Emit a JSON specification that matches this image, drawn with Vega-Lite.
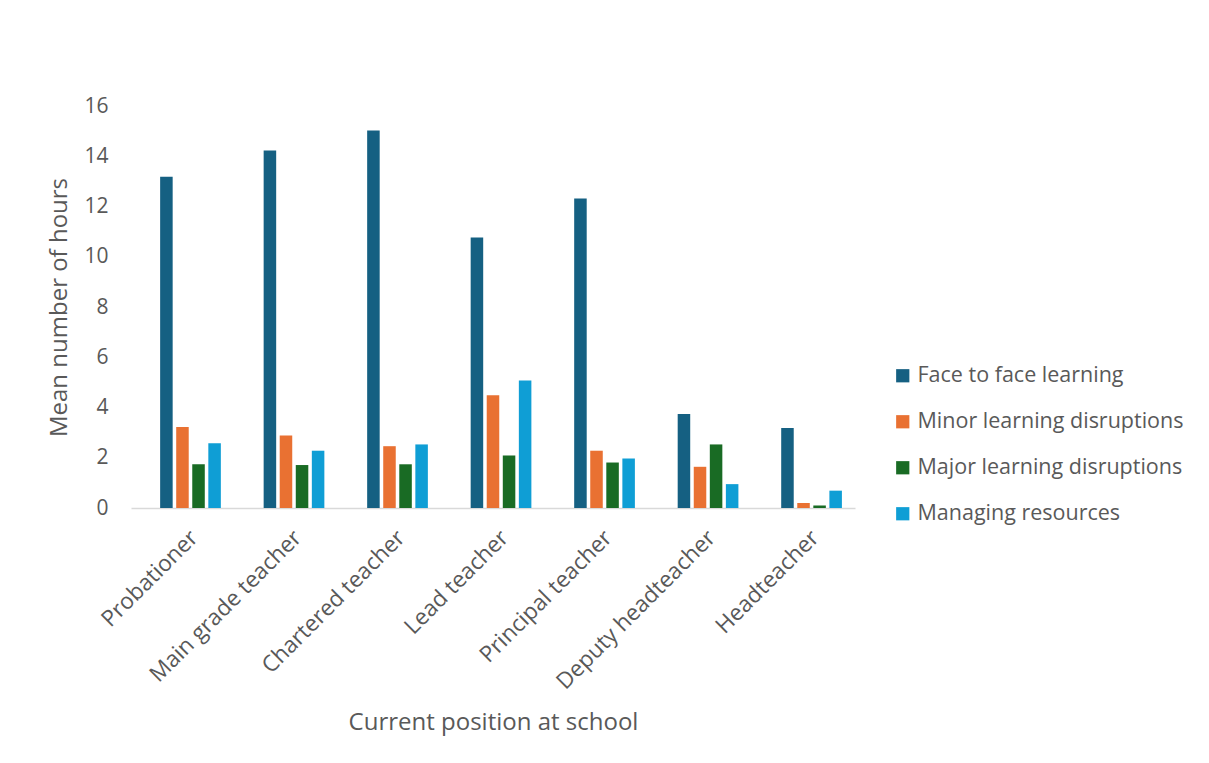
{
  "$schema": "https://vega.github.io/schema/vega-lite/v6.json",
  "width": 724,
  "height": 402,
  "autosize": {"type": "none"},
  "padding": {"left": 131, "top": 106, "right": 354, "bottom": 255},
  "background": "white",
  "config": {
    "font": "Open Sans",
    "view": {"stroke": null},
    "axis": {"labelColor": "#595959", "titleColor": "#595959", "labelFont": "Open Sans", "titleFont": "Open Sans", "titleFontWeight": "normal"},
    "legend": {"labelColor": "#595959", "labelFont": "Open Sans"}
  },
  "data": {
    "values": [
      {"position": "Probationer", "activity": "Face to face learning", "hours": 13.18},
      {"position": "Probationer", "activity": "Minor learning disruptions", "hours": 3.22},
      {"position": "Probationer", "activity": "Major learning disruptions", "hours": 1.74},
      {"position": "Probationer", "activity": "Managing resources", "hours": 2.58},
      {"position": "Main grade teacher", "activity": "Face to face learning", "hours": 14.23},
      {"position": "Main grade teacher", "activity": "Minor learning disruptions", "hours": 2.89},
      {"position": "Main grade teacher", "activity": "Major learning disruptions", "hours": 1.71},
      {"position": "Main grade teacher", "activity": "Managing resources", "hours": 2.28},
      {"position": "Chartered teacher", "activity": "Face to face learning", "hours": 15.02},
      {"position": "Chartered teacher", "activity": "Minor learning disruptions", "hours": 2.46},
      {"position": "Chartered teacher", "activity": "Major learning disruptions", "hours": 1.74},
      {"position": "Chartered teacher", "activity": "Managing resources", "hours": 2.53},
      {"position": "Lead teacher", "activity": "Face to face learning", "hours": 10.77},
      {"position": "Lead teacher", "activity": "Minor learning disruptions", "hours": 4.49},
      {"position": "Lead teacher", "activity": "Major learning disruptions", "hours": 2.09},
      {"position": "Lead teacher", "activity": "Managing resources", "hours": 5.07},
      {"position": "Principal teacher", "activity": "Face to face learning", "hours": 12.32},
      {"position": "Principal teacher", "activity": "Minor learning disruptions", "hours": 2.28},
      {"position": "Principal teacher", "activity": "Major learning disruptions", "hours": 1.81},
      {"position": "Principal teacher", "activity": "Managing resources", "hours": 1.97},
      {"position": "Deputy headteacher", "activity": "Face to face learning", "hours": 3.74},
      {"position": "Deputy headteacher", "activity": "Minor learning disruptions", "hours": 1.64},
      {"position": "Deputy headteacher", "activity": "Major learning disruptions", "hours": 2.53},
      {"position": "Deputy headteacher", "activity": "Managing resources", "hours": 0.95},
      {"position": "Headteacher", "activity": "Face to face learning", "hours": 3.18},
      {"position": "Headteacher", "activity": "Minor learning disruptions", "hours": 0.2},
      {"position": "Headteacher", "activity": "Major learning disruptions", "hours": 0.1},
      {"position": "Headteacher", "activity": "Managing resources", "hours": 0.69}
    ]
  },
  "mark": {"type": "bar"},
  "encoding": {
    "x": {
      "field": "position",
      "type": "nominal",
      "sort": ["Probationer", "Main grade teacher", "Chartered teacher", "Lead teacher", "Principal teacher", "Deputy headteacher", "Headteacher"],
      "scale": {"paddingInner": 0.4135, "paddingOuter": 0.204, "align": 0.69},
      "title": "Current position at school",
      "axis": {
        "labelAngle": -45,
        "labelFontSize": 22.5,
        "labelPadding": 18,
        "labelOffset": -4,
        "labelLimit": 400,
        "ticks": false,
        "domainColor": "#D9D9D9",
        "domainWidth": 1.3,
        "titleFontSize": 24,
        "titlePadding": 17
      }
    },
    "xOffset": {
      "field": "activity",
      "type": "nominal",
      "sort": ["Face to face learning", "Minor learning disruptions", "Major learning disruptions", "Managing resources"],
      "scale": {"paddingInner": 0.22, "paddingOuter": 0}
    },
    "y": {
      "field": "hours",
      "type": "quantitative",
      "scale": {"domain": [0, 16], "nice": false},
      "title": "Mean number of hours",
      "axis": {
        "values": [0, 2, 4, 6, 8, 10, 12, 14, 16],
        "grid": false,
        "domain": false,
        "ticks": false,
        "labelFontSize": 21,
        "labelPadding": 23,
        "titleFontSize": 24,
        "titlePadding": 12
      }
    },
    "color": {
      "field": "activity",
      "type": "nominal",
      "sort": ["Face to face learning", "Minor learning disruptions", "Major learning disruptions", "Managing resources"],
      "scale": {
        "domain": ["Face to face learning", "Minor learning disruptions", "Major learning disruptions", "Managing resources"],
        "range": ["#156082", "#E97132", "#196B24", "#0F9ED5"]
      },
      "legend": {
        "title": null,
        "orient": "none",
        "legendX": 761,
        "legendY": 259,
        "symbolType": "square",
        "symbolSize": 175,
        "symbolStrokeWidth": 0,
        "symbolOpacity": 1,
        "labelFontSize": 21.5,
        "labelOffset": 4,
        "rowPadding": 23,
        "labelLimit": 400
      }
    }
  }
}
